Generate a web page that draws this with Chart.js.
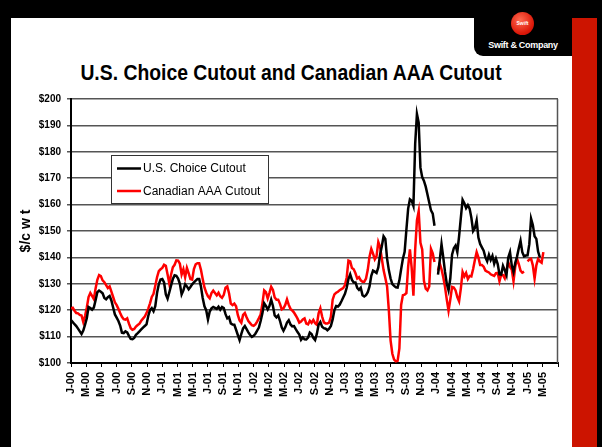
<!DOCTYPE html>
<html>
<head>
<meta charset="utf-8">
<title>U.S. Choice Cutout and Canadian AAA Cutout</title>
<script src="https://cdn.jsdelivr.net/npm/chart.js@4.4.1/dist/chart.umd.min.js"></script>
<style>
  html, body { margin: 0; padding: 0; background: #fff; }
  #slide { position: relative; width: 602px; height: 447px; overflow: hidden; background: #fff; font-family: "Liberation Sans", Arial, sans-serif; }
  .blk { position: absolute; background: #000; }
  #topBand { left: 0; top: 0; width: 602px; height: 18px; }
  #leftBand { left: 0; top: 0; width: 11px; height: 447px; }
  #rightBand { left: 597px; top: 0; width: 5px; height: 447px; }
  #redBar { position: absolute; left: 572px; top: 18px; width: 25px; height: 429px; background: #cc1400; }
  #logoTab { left: 474px; top: 0; width: 98px; height: 56px; border-bottom-left-radius: 9px; }
  #logoDot { position: absolute; left: 511px; top: 12px; width: 23px; height: 23px; border-radius: 50%;
    background: radial-gradient(circle at 40% 35%, #ff6a50, #dd1a0a 65%, #b00 100%);
    color: #fff; font: bold 5px "Liberation Sans", Arial, sans-serif; text-align: center; line-height: 23px; }
  #logoText { position: absolute; left: 474px; top: 40px; width: 98px; text-align: center; color: #fff;
    font: bold 9px "Liberation Sans", Arial, sans-serif; letter-spacing: -0.3px; }
  #title { position: absolute; left: 0; top: 60px; width: 582px; text-align: center; color: #000;
    font: bold 22px "Liberation Sans", Arial, sans-serif; transform: scaleX(0.88); }
  #chart { position: absolute; left: 0; top: 0; }
</style>
</head>
<body>
<div id="slide">
  <div class="blk" id="topBand"></div>
  <div class="blk" id="leftBand"></div>
  <div id="redBar"></div>
  <div class="blk" id="rightBand"></div>
  <div class="blk" id="logoTab"></div>
  <div id="logoDot">Swift</div>
  <div id="logoText">Swift &amp; Company</div>
  <div id="title">U.S. Choice Cutout and Canadian AAA Cutout</div>
  <canvas id="chart" width="602" height="447"></canvas>
</div>
<script>
// Weekly cutout values, $/cwt, first week of Jan 2000 onward (null = no quote)
const usChoice = [
  116.2, 115.5, 114.7, 114.0, 113.0, 112.0, 111.0, 112.3, 114.5, 117.0,
  121.2, 120.8, 120.2, 121.0, 123.8, 126.8, 127.4, 127.0, 126.4, 124.6,
  124.1, 124.9, 125.4, 123.7, 121.0, 118.4, 117.2, 115.9, 114.2, 111.5,
  111.3, 112.0, 111.6, 110.3, 109.1, 109.0, 109.5, 110.7, 111.3, 112.0,
  112.7, 113.4, 114.0, 114.6, 117.8, 120.0, 120.8, 119.6, 121.5, 126.5,
  129.8, 131.6, 131.8, 130.5, 126.0, 124.4, 126.8, 129.4, 131.8, 133.2,
  133.0, 132.0, 130.0, 126.0, 127.5, 129.8, 129.0, 127.9, 128.8, 129.8,
  130.5, 131.2, 131.8, 131.8, 129.0, 124.6, 121.5, 120.0, 116.5, 119.5,
  120.7, 121.2, 120.9, 120.5, 121.3, 120.2, 121.2, 120.8, 118.5, 116.9,
  117.4, 115.0, 114.6, 114.5, 112.6, 110.6, 108.7, 111.0, 113.1, 114.0,
  112.8, 111.6, 110.6, 109.9, 110.3, 111.1, 112.3, 113.4, 115.9, 118.8,
  122.6, 121.6, 120.3, 121.6, 124.0, 121.6, 118.0, 117.3, 118.0, 116.0,
  113.5, 112.2, 113.5, 115.3, 116.2, 114.6, 113.9, 114.0, 112.8, 111.7,
  110.8, 108.8, 109.7, 109.0, 108.9, 109.6, 111.5, 111.0, 109.5, 108.7,
  111.0, 114.5, 115.5, 113.7, 113.2, 113.0, 112.4, 113.0, 114.0, 116.5,
  120.0, 121.6, 121.4, 122.1, 123.4, 124.8, 126.2, 128.5, 131.8, 133.6,
  131.5, 130.5, 130.5, 128.5, 127.7, 128.5, 125.7, 125.2, 125.7, 126.8,
  129.0, 133.0, 135.0, 134.6, 134.1, 136.2, 141.0, 144.2, 148.0, 147.0,
  139.5, 135.2, 132.0, 129.9, 129.2, 128.7, 128.6, 131.3, 135.5, 139.5,
  142.1, 150.5, 158.5, 162.0, 161.5, 159.5, 183.0, 194.3, 191.0, 174.0,
  170.4, 169.0, 166.8, 163.8, 160.8, 157.8, 156.6, 152.0, null, 133.5,
  139.0, 145.0, 140.0, 134.5, 130.0, 127.5, 132.0, 141.0, 143.5, 144.5,
  142.0, 148.0, 155.0, 161.8, 160.5, 158.7, 159.8, 158.5, 155.0, 150.0,
  151.1, 154.0, 147.5, 145.1, 143.8, 142.5, 140.0, 138.5, 141.0, 139.0,
  140.6, 137.6, 139.6, 137.5, 133.6, 133.5, 136.8, 135.2, 133.3, 140.0,
  142.0, 137.0, 134.5, 138.0, 140.3, 143.5, 146.3, 142.0, 140.4, 140.7,
  140.8, 145.0, 154.7, 152.3, 148.0, 147.0, 142.2, 140.0
];

const canadianAAA = [
  120.7, 120.9, 119.8, 118.9, 118.8, 118.2, 118.0, 115.5, 117.8, 121.0,
  125.0, 126.5, 125.4, 124.2, 128.2, 131.5, 133.3, 132.9, 131.3, 130.6,
  129.5, 128.4, 129.0, 127.0, 125.0, 123.0, 121.9, 120.5, 118.9, 117.5,
  116.6, 116.4, 116.9, 114.9, 113.2, 112.6, 112.9, 113.8, 114.4, 114.9,
  116.0, 116.8, 117.6, 118.9, 120.6, 122.6, 125.0, 126.2, 129.3, 132.5,
  134.8, 135.5, 136.0, 137.2, 136.8, 133.5, 130.0, 133.5, 136.3, 137.2,
  138.9, 138.8, 137.6, 133.5, 135.5, 132.5, 136.0, 134.0, 131.8, 131.6,
  135.6, 137.4, 137.8, 137.8, 135.3, 131.8, 128.6, 126.7, 125.3, 124.5,
  126.5, 127.4, 126.5, 125.6, 126.6, 125.3, 124.7, 125.8, 128.5, 129.0,
  126.4, 122.5, 121.9, 122.5, 121.5, 118.2, 116.1, 115.2, 118.2, 118.9,
  117.3, 115.9, 115.1, 114.3, 114.1, 114.6, 115.7, 117.0, 118.4, 122.5,
  127.5, 126.8, 124.5, 126.6, 128.9, 127.7, 124.8, 124.0, 124.0, 122.4,
  120.3, 120.7, 122.0, 124.1, 122.0, 120.5, 119.9, 119.1, 118.0, 116.8,
  115.3, 115.7, 116.5, 116.9, 114.9, 114.6, 116.0, 115.2, 116.3, 115.1,
  114.5, 118.8, 120.7, 117.6, 115.4, 115.0, 115.0, 115.3, 117.5, 124.0,
  126.0, 126.6, 127.0, 127.6, 128.0, 128.4, 129.5, 132.4, 138.8, 138.5,
  136.0, 135.5, 134.0, 132.0, 132.5, 131.3, 130.8, 130.8, 132.0, 135.3,
  140.3, 143.2, 141.4, 139.3, 140.5, 145.8, 144.0, 139.5, 135.2, 132.2,
  129.0, 120.0, 108.5, 103.5, 101.3, 100.6, 100.8, 105.5, 122.0, 125.7,
  125.9, 126.5, 136.5, 143.0, 136.0, 125.5, 143.0, 154.0, 157.5, 145.5,
  143.0, 131.0, 128.2, 127.5, 129.0, 143.2, 141.5, 138.3, null, 135.0,
  137.7, 135.5, 132.5, 128.8, 124.0, 119.8, 124.0, 128.8, 128.6, 127.5,
  125.0, 123.4, 128.2, 134.5, 132.8, 134.1, 131.8, 133.0, 132.8, 135.6,
  139.0, 142.0, 140.0, 137.1, 137.1, 136.5, 135.0, 134.6, 134.3, 133.6,
  133.3, 133.0, 134.0, 134.1, 131.0, 133.5, 133.3, 132.1, 135.2, 138.2,
  136.4, 135.4, 131.0, 136.5, 139.5, 137.5, 135.0, 134.2, 134.6, null,
  138.5, 139.2, 139.5, 137.0, 132.0, 137.0, 139.4, 138.5, 138.0, 142.0
];

// one label every two months, from Jan 2000 to Mar 2005
const xTickLabels = [
  'J-00', 'M-00', 'M-00', 'J-00', 'S-00', 'N-00',
  'J-01', 'M-01', 'M-01', 'J-01', 'S-01', 'N-01',
  'J-02', 'M-02', 'M-02', 'J-02', 'S-02', 'N-02',
  'J-03', 'M-03', 'M-03', 'J-03', 'S-03', 'N-03',
  'J-04', 'M-04', 'M-04', 'J-04', 'S-04', 'N-04',
  'J-05', 'M-05'
];

const seriesNames = ['U.S. Choice Cutout', 'Canadian AAA Cutout'];
const seriesColors = ['#000000', '#ff0000'];
const yMin = 100, yMax = 200, yStep = 10;
const monthsShown = 64;

// week index -> months since Jan 2000
function toPoints(values) {
  return values.map((v, i) => ({ x: i * 12 / 52, y: v }));
}

// legend box sitting inside the plot, like the Excel original
const insideLegend = {
  id: 'insideLegend',
  afterDraw(chart) {
    const ctx = chart.ctx;
    const bx = 111, by = 155, bw = 157, bh = 48;
    ctx.save();
    ctx.fillStyle = '#fff';
    ctx.fillRect(bx, by, bw, bh);
    ctx.strokeStyle = '#333';
    ctx.lineWidth = 1;
    ctx.strokeRect(bx + 0.5, by + 0.5, bw, bh);
    ctx.font = '12px "Liberation Sans", Arial, sans-serif';
    ctx.textBaseline = 'middle';
    chart.data.datasets.forEach((ds, i) => {
      const y = by + 13.5 + i * 22.5;
      ctx.strokeStyle = ds.borderColor;
      ctx.lineWidth = 2.5;
      ctx.beginPath();
      ctx.moveTo(bx + 6, y);
      ctx.lineTo(bx + 30, y);
      ctx.stroke();
      ctx.fillStyle = '#000';
      ctx.fillText(ds.label, bx + 32, y + 0.5);
    });
    ctx.restore();
  }
};

// thin frame on the right of the plot area
const plotFrame = {
  id: 'plotFrame',
  beforeDatasetsDraw(chart) {
    const a = chart.chartArea;
    const ctx = chart.ctx;
    ctx.save();
    ctx.strokeStyle = '#555';
    ctx.lineWidth = 1.5;
    ctx.beginPath();
    ctx.moveTo(a.right - 0.5, a.top);
    ctx.lineTo(a.right - 0.5, a.bottom);
    ctx.stroke();
    ctx.restore();
  }
};

Chart.defaults.font.family = '"Liberation Sans", Arial, sans-serif';
Chart.defaults.color = '#000';

new Chart(document.getElementById('chart'), {
  type: 'line',
  data: {
    datasets: [
      {
        label: seriesNames[0],
        data: toPoints(usChoice),
        borderColor: seriesColors[0],
        backgroundColor: seriesColors[0],
        borderWidth: 2.5,
        pointRadius: 0,
        tension: 0,
        spanGaps: false
      },
      {
        label: seriesNames[1],
        data: toPoints(canadianAAA),
        borderColor: seriesColors[1],
        backgroundColor: seriesColors[1],
        borderWidth: 2.5,
        pointRadius: 0,
        tension: 0,
        spanGaps: false
      }
    ]
  },
  options: {
    responsive: false,
    animation: false,
    events: [],
    layout: { padding: { left: 14, top: 99, right: 44, bottom: 0 } },
    plugins: {
      legend: { display: false },
      tooltip: { enabled: false }
    },
    scales: {
      x: {
        type: 'linear',
        min: 0,
        max: monthsShown,
        afterFit(scale) { scale.height = 84; },
        ticks: {
          stepSize: 2,
          autoSkip: false,
          maxRotation: 90,
          minRotation: 90,
          padding: 5,
          font: { size: 11, weight: 'bold' },
          callback: (value) => xTickLabels[value / 2] || ''
        },
        grid: { drawOnChartArea: false, drawTicks: true, tickLength: 4, color: '#000' },
        border: { display: true, color: '#000', width: 2 }
      },
      y: {
        min: yMin,
        max: yMax,
        afterFit(scale) { scale.width = 57; },
        ticks: {
          stepSize: yStep,
          padding: 6,
          font: { size: 10, weight: 'bold' },
          callback: (value) => '$' + value
        },
        grid: { color: '#555', lineWidth: 1.5, tickLength: 4 },
        border: { display: true, color: '#000', width: 2 },
        title: {
          display: true,
          text: '$/c w t',
          font: { size: 14, weight: 'bold' },
          padding: { top: 4, bottom: 4 }
        }
      }
    }
  },
  plugins: [plotFrame, insideLegend]
});
</script>
</body>
</html>
